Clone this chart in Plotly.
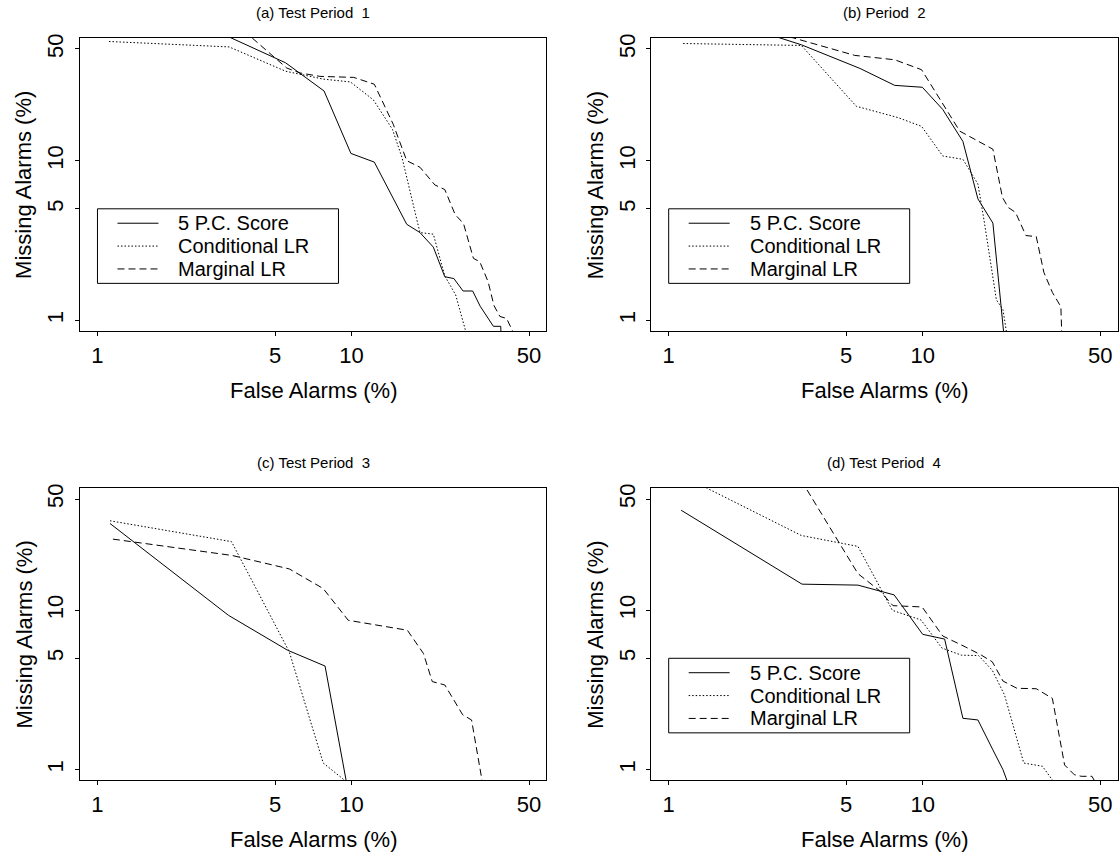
import math
import plotly.graph_objects as go

# ---------------- data: false alarms (%) vs missing alarms (%) ----------------
# (a) Test Period 1
a_pc_fa = [2.24, 5.5, 7.8, 9.95, 12.3, 16.5, 18.6, 21.0, 23.3, 25.3, 27.5, 30.0, 32.1, 36.2, 38.7, 38.9]
a_pc_ma = [78.7, 41.0, 27.3, 11.1, 9.8, 4.0, 3.55, 2.88, 1.88, 1.83, 1.53, 1.53, 1.23, 0.92, 0.92, 0.7]
a_cl_fa = [1.11, 3.3, 5.5, 7.74, 9.9, 12.2, 14.5, 15.8, 18.6, 21.0, 23.3, 25.7, 28.5]
a_cl_ma = [55.7, 51.5, 36.3, 32.4, 31.1, 24.0, 15.7, 10.5, 3.55, 3.47, 1.9, 1.45, 0.8]
a_ml_fa = [3.5, 5.56, 6.27, 7.51, 10.2, 12.3, 14.6, 16.5, 18.6, 21.3, 23.3, 25.6, 27.6, 30.2, 32.0, 34.5, 36.4, 38.4, 40.8, 44.0]
a_ml_ma = [72.0, 38.0, 35.4, 33.7, 33.2, 30.1, 16.9, 10.0, 9.1, 7.05, 6.6, 4.6, 4.05, 2.45, 2.33, 1.75, 1.24, 1.06, 1.03, 0.8]

# (b) Period 2
b_pc_fa = [2.0, 3.33, 5.66, 7.76, 9.97, 12.0, 14.4, 16.5, 18.9, 20.9]
b_pc_ma = [68.9, 53.1, 37.8, 29.6, 28.8, 20.9, 13.2, 5.77, 4.07, 0.8]
b_cl_fa = [1.14, 3.33, 5.48, 8.0, 9.9, 12.0, 14.4, 16.5, 17.5, 19.5, 20.7, 21.5]
b_cl_ma = [54.1, 52.6, 21.9, 18.6, 16.4, 10.7, 10.2, 7.15, 4.1, 1.35, 1.17, 0.8]
b_ml_fa = [2.24, 5.4, 7.76, 9.9, 14.0, 18.9, 20.6, 21.7, 23.2, 25.5, 28.0, 30.0, 32.4, 35.0, 35.3]
b_ml_ma = [67.9, 45.6, 42.8, 37.1, 15.3, 11.8, 5.9, 5.1, 4.75, 3.4, 3.35, 2.0, 1.5, 1.22, 0.8]

# (c) Test Period 3
c_pc_fa = [1.12, 3.28, 5.6, 7.87, 9.6]
c_pc_ma = [35.1, 9.3, 5.62, 4.47, 0.8]
c_cl_fa = [1.12, 3.37, 5.69, 7.74, 9.55]
c_cl_ma = [36.5, 27.0, 5.49, 1.1, 0.84]
c_ml_fa = [1.15, 3.39, 5.69, 7.74, 9.71, 16.6, 19.2, 20.8, 23.3, 27.4, 29.7, 32.9]
c_ml_ma = [28.0, 22.1, 18.2, 13.7, 8.66, 7.5, 5.36, 3.57, 3.4, 2.21, 2.05, 0.8]

# (d) Test Period 4
d_pc_fa = [1.12, 3.35, 5.56, 7.72, 10.0, 12.2, 14.4, 16.5, 18.9, 20.7, 21.8]
d_pc_ma = [42.5, 14.6, 14.4, 12.5, 7.07, 6.6, 2.1, 2.05, 1.33, 1.0, 0.8]
d_cl_fa = [1.12, 3.33, 5.56, 7.6, 9.85, 11.9, 14.2, 16.6, 18.8, 21.0, 25.0, 29.6, 33.5]
d_cl_ma = [70.5, 29.5, 25.2, 10.0, 8.7, 5.8, 5.23, 5.2, 4.2, 2.94, 1.1, 1.05, 0.8]
d_ml_fa = [3.16, 5.56, 6.8, 7.64, 9.95, 12.0, 14.7, 17.0, 18.8, 20.7, 23.5, 28.0, 32.4, 36.2, 39.5, 42.1, 46.4, 47.5]
d_ml_ma = [74.8, 17.0, 13.2, 10.7, 10.5, 6.9, 5.9, 5.24, 4.75, 3.6, 3.24, 3.22, 2.8, 1.07, 0.93, 0.908, 0.908, 0.85]

tick_vals = [1, 5, 10, 50]
tick_text = ["1", "5", "10", "50"]
method_names = ["5 P.C. Score", "Conditional LR", "Marginal LR"]
panel_titles = ["(a) Test Period  1", "(b) Period  2", "(c) Test Period  3", "(d) Test Period  4"]
x_title = "False Alarms (%)"
y_title = "Missing Alarms (%)"

# ---------------- layout geometry ----------------
W, H = 1119, 858
FONT = "Liberation Sans, Arial, Helvetica, sans-serif"
LOG_RANGE = [-0.068, 1.767]
DASHES = ["solid", "1.5px,2px", "7px,4px"]

# plot boxes in pixels: (left, top, right, bottom)
boxes = [
    (80.2, 33.3, 546.3, 328.3),
    (651.4, 33.3, 1117.5, 328.3),
    (80.2, 486.0, 546.3, 780.0),
    (651.4, 486.0, 1117.5, 780.0),
]
panels = [
    ((a_pc_fa, a_pc_ma), (a_cl_fa, a_cl_ma), (a_ml_fa, a_ml_ma)),
    ((b_pc_fa, b_pc_ma), (b_cl_fa, b_cl_ma), (b_ml_fa, b_ml_ma)),
    ((c_pc_fa, c_pc_ma), (c_cl_fa, c_cl_ma), (c_ml_fa, c_ml_ma)),
    ((d_pc_fa, d_pc_ma), (d_cl_fa, d_cl_ma), (d_ml_fa, d_ml_ma)),
]
legend_panels = [0, 1, 3]
legend_anchor = (1, 5)  # top-left corner of the key, in data units
KEY_W, KEY_H = 241, 75
KEY_ROW0, KEY_ROW_STEP = 14.5, 23


def px_to_paper(x, y):
    return x / W, 1 - y / H


def data_to_px(box, fa, ma):
    left, top, right, bottom = box
    span = LOG_RANGE[1] - LOG_RANGE[0]
    fx = (math.log10(fa) - LOG_RANGE[0]) / span
    fy = (math.log10(ma) - LOG_RANGE[0]) / span
    return left + fx * (right - left), bottom - fy * (bottom - top)


fig = go.Figure()
annotations = []
shapes = []

for i, (box, series) in enumerate(zip(boxes, panels)):
    n = i + 1
    xa = "x" if n == 1 else f"x{n}"
    ya = "y" if n == 1 else f"y{n}"
    for (fa, ma), name, dash in zip(series, method_names, DASHES):
        fig.add_trace(go.Scatter(
            x=fa, y=ma, mode="lines", name=name, showlegend=False,
            line=dict(color="black", width=1, dash=dash),
            xaxis=xa, yaxis=ya, hoverinfo="x+y",
        ))

    left, top, right, bottom = box
    x0, y1 = px_to_paper(left, top)
    x1, y0 = px_to_paper(right, bottom)
    axis_common = dict(
        type="log", range=LOG_RANGE, tickvals=tick_vals, ticktext=tick_text,
        ticks="outside", ticklen=4, tickwidth=1, tickcolor="black",
        showline=True, linecolor="black", linewidth=1, mirror=True,
        showgrid=False, zeroline=False,
        tickfont=dict(family=FONT, size=22, color="black"),
    )
    xkey = "xaxis" if n == 1 else f"xaxis{n}"
    ykey = "yaxis" if n == 1 else f"yaxis{n}"
    fig.layout[xkey] = dict(axis_common, domain=[x0, x1], anchor=ya, ticklabelstandoff=0)
    fig.layout[ykey] = dict(axis_common, domain=[y0, y1], anchor=xa, tickangle=-90,
                            ticklabelstandoff=3)

    cx = (left + right) / 2
    cy = (top + bottom) / 2
    # panel title
    tx, ty = px_to_paper(cx, top - 26)
    annotations.append(dict(x=tx, y=ty, xref="paper", yref="paper", text=panel_titles[i],
                            showarrow=False, xanchor="center", yanchor="middle",
                            font=dict(family=FONT, size=15, color="black")))
    # axis titles
    tx, ty = px_to_paper(cx, bottom + 59)
    annotations.append(dict(x=tx, y=ty, xref="paper", yref="paper", text=x_title,
                            showarrow=False, xanchor="center", yanchor="middle",
                            font=dict(family=FONT, size=22, color="black")))
    tx, ty = px_to_paper(left - 56, cy)
    annotations.append(dict(x=tx, y=ty, xref="paper", yref="paper", text=y_title,
                            showarrow=False, xanchor="center", yanchor="middle", textangle=-90,
                            font=dict(family=FONT, size=22, color="black")))

    # key box
    if i in legend_panels:
        lx, ly = data_to_px(box, *legend_anchor)
        bx0, by1 = px_to_paper(lx, ly)
        bx1, by0 = px_to_paper(lx + KEY_W, ly + KEY_H)
        shapes.append(dict(type="rect", xref="paper", yref="paper", x0=bx0, x1=bx1, y0=by0, y1=by1,
                           line=dict(color="black", width=1), fillcolor="white", layer="above"))
        for k, (name, dash) in enumerate(zip(method_names, DASHES)):
            row = ly + KEY_ROW0 + k * KEY_ROW_STEP
            sx0, sy = px_to_paper(lx + 20, row)
            sx1, _ = px_to_paper(lx + 61, row)
            shapes.append(dict(type="line", xref="paper", yref="paper", x0=sx0, x1=sx1, y0=sy, y1=sy,
                               line=dict(color="black", width=1, dash=dash), layer="above"))
            tx, ty = px_to_paper(lx + 79, row)
            annotations.append(dict(x=tx, y=ty, xref="paper", yref="paper", text=name,
                                    showarrow=False, xanchor="left", yanchor="middle",
                                    font=dict(family=FONT, size=20, color="black")))

fig.update_layout(
    width=W, height=H,
    margin=dict(l=0, r=0, t=0, b=0),
    paper_bgcolor="white", plot_bgcolor="white",
    showlegend=False,
    annotations=annotations,
    shapes=shapes,
)

fig.write_html("out.html")
